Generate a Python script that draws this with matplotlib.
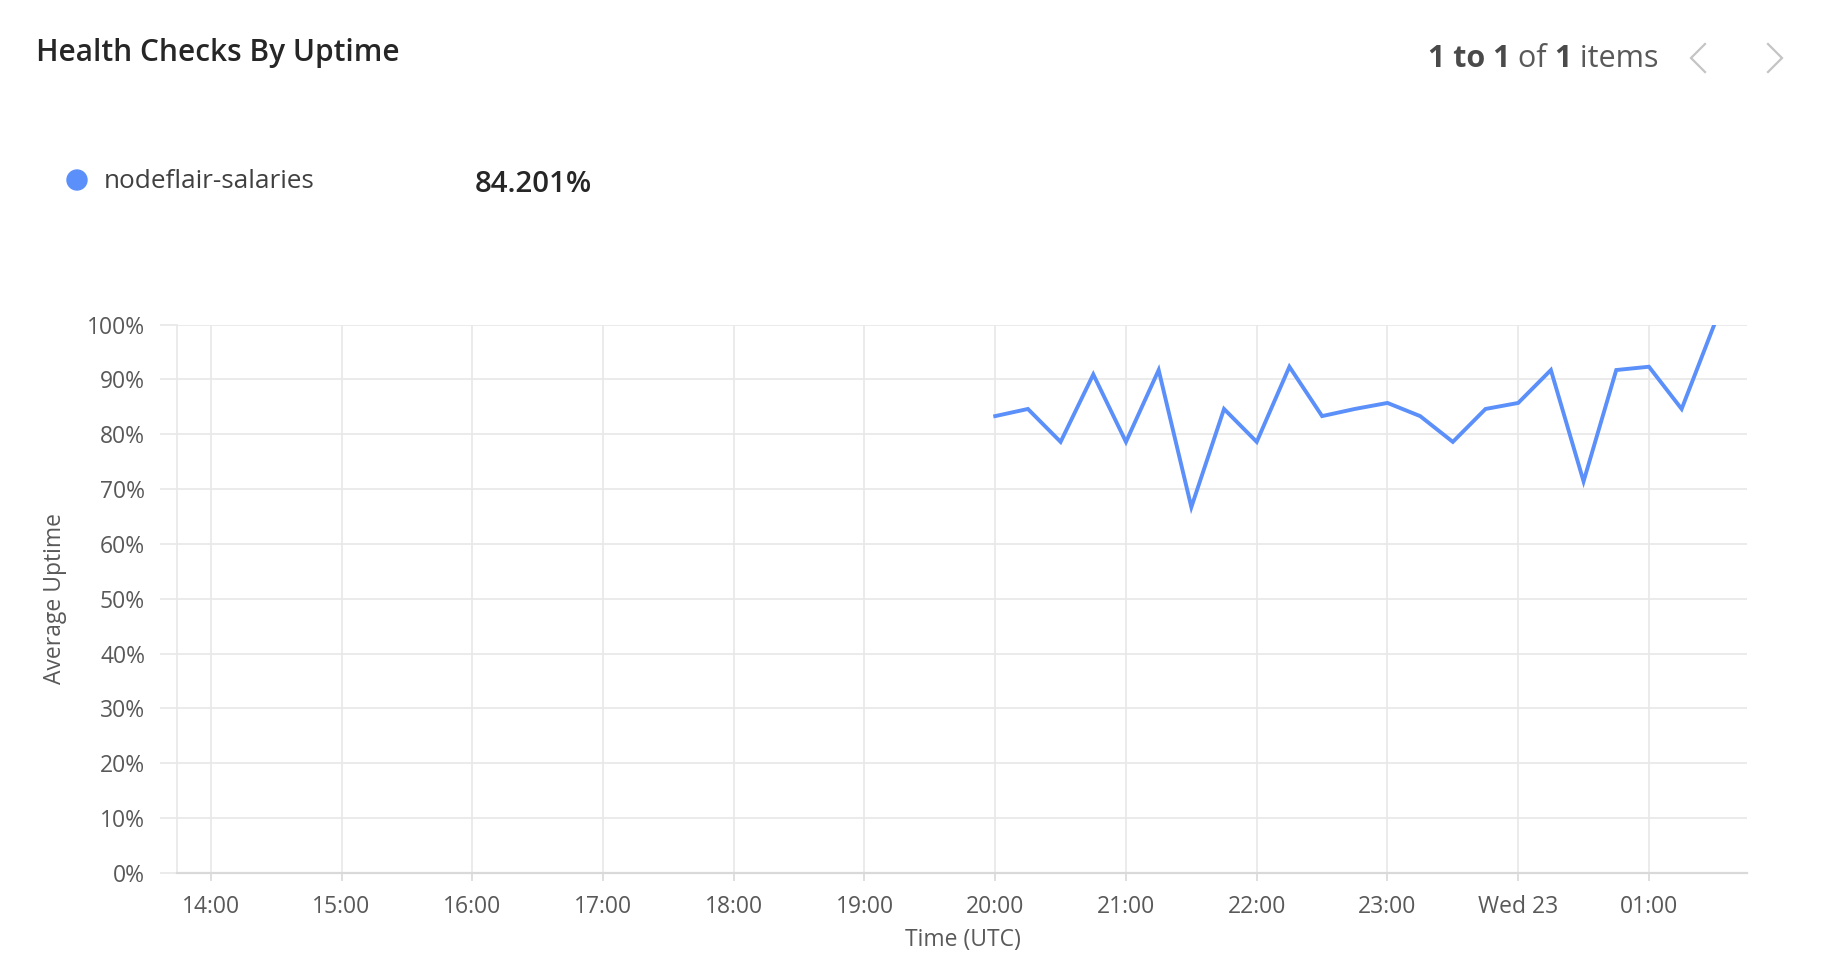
"""Health checks by uptime - line chart recreation."""

import matplotlib

matplotlib.use("Agg")
import matplotlib.dates as mdates
import matplotlib.pyplot as plt
import pandas as pd
from matplotlib.lines import Line2D
from matplotlib.patches import Ellipse
from matplotlib.ticker import FixedLocator, FuncFormatter

# ---- data -------------------------------------------------------------
times = [
    "2023-08-22 20:00", "2023-08-22 20:15", "2023-08-22 20:30", "2023-08-22 20:45",
    "2023-08-22 21:00", "2023-08-22 21:15", "2023-08-22 21:30", "2023-08-22 21:45",
    "2023-08-22 22:00", "2023-08-22 22:15", "2023-08-22 22:30", "2023-08-22 22:45",
    "2023-08-22 23:00", "2023-08-22 23:15", "2023-08-22 23:30", "2023-08-22 23:45",
    "2023-08-23 00:00", "2023-08-23 00:15", "2023-08-23 00:30", "2023-08-23 00:45",
    "2023-08-23 01:00", "2023-08-23 01:15", "2023-08-23 01:30",
]
uptime = [
    83.3, 84.6, 78.6, 90.9, 78.6, 91.7, 66.7, 84.6, 78.6, 92.3, 83.3, 84.6,
    85.7, 83.3, 78.6, 84.6, 85.7, 91.7, 71.4, 91.7, 92.3, 84.6, 100.0,
]
tick_times = [
    "2023-08-22 14:00", "2023-08-22 15:00", "2023-08-22 16:00", "2023-08-22 17:00",
    "2023-08-22 18:00", "2023-08-22 19:00", "2023-08-22 20:00", "2023-08-22 21:00",
    "2023-08-22 22:00", "2023-08-22 23:00", "2023-08-23 00:00", "2023-08-23 01:00",
]
tick_labels = [
    "14:00", "15:00", "16:00", "17:00", "18:00", "19:00",
    "20:00", "21:00", "22:00", "23:00", "Wed 23", "01:00",
]
x_range = ["2023-08-22 13:44:30", "2023-08-23 01:45"]
series_name = "nodeflair-salaries"
series_avg = "84.201%"
y_ticks = [0, 10, 20, 30, 40, 50, 60, 70, 80, 90, 100]

# ---- style ------------------------------------------------------------
W, H = 1830, 960
LINE = "#5b8ff9"
TEXT = "#595959"
DARK = "#262626"
GRID = "#e8e8e8"
plt.rcParams["font.family"] = ["Open Sans", "DejaVu Sans"]

fig = plt.figure(figsize=(W / 100, H / 100), dpi=100)


def fx(px):
    return px / W


def fy(py):
    return 1 - py / H


left, right, top, bottom = 177, 1747, 324.5, 873
ax = fig.add_axes([fx(left), fy(bottom), fx(right - left), (bottom - top) / H])

t = pd.to_datetime(times)
ax.plot(t, uptime, color=LINE, linewidth=2.8, solid_joinstyle="miter")

ax.set_xlim(pd.to_datetime(x_range[0]), pd.to_datetime(x_range[1]))
ax.set_ylim(0, 100)

ax.xaxis.set_major_locator(FixedLocator(mdates.date2num(pd.to_datetime(tick_times))))
ax.set_xticklabels(tick_labels)
ax.yaxis.set_major_locator(FixedLocator(y_ticks))
ax.yaxis.set_major_formatter(FuncFormatter(lambda v, _: f"{v:.0f}%"))

ax.grid(True, color=GRID, linewidth=1.2)
ax.set_axisbelow(True)
for side in ("top", "right"):
    ax.spines[side].set_visible(False)
ax.spines["left"].set_color(GRID)
ax.spines["left"].set_linewidth(1.2)
ax.spines["bottom"].set_color("#d9d9d9")
ax.spines["bottom"].set_linewidth(1.6)

ax.tick_params(axis="y", length=12, width=1.2, color=GRID, pad=11,
               labelsize=16.5, labelcolor=TEXT)
ax.tick_params(axis="x", length=6, width=1.2, color="#d9d9d9", pad=10,
               labelsize=16.5, labelcolor=TEXT)

ax.set_xlabel("Time (UTC)", fontsize=16.5, color=TEXT)
ax.set_ylabel("Average Uptime", fontsize=16.5, color=TEXT)
ax.xaxis.set_label_coords((963 - left) / (right - left), -(940 - bottom) / (bottom - top))
ax.yaxis.set_label_coords(-(left - 55) / (right - left), 0.5)
ax.xaxis.label.set_va("center")
ax.yaxis.label.set_va("center")

# ---- header -------------------------------------------------------------
fig.text(fx(36), fy(53), "Health Checks By Uptime", fontsize=21.5,
         fontweight="semibold", color=DARK, va="center", ha="left")

# legend row
fig.add_artist(Ellipse((fx(77), fy(180)), fx(20), 20 / H,
                       transform=fig.transFigure, color=LINE))
fig.text(fx(104), fy(181), series_name, fontsize=18.8, color="#404040",
         va="center", ha="left")
fig.text(fx(475), fy(184), series_avg, fontsize=21.2, fontweight="semibold",
         color=DARK, va="center", ha="left")

# pager "1 to 1 of 1 items"
renderer = fig.canvas.get_renderer()
pieces = [("1 to 1", "bold", "#4a4a4a"), (" of ", "normal", TEXT),
          ("1", "bold", "#4a4a4a"), (" items", "normal", TEXT)]
xpos = 1428
for s, w, c in pieces:
    txt = fig.text(fx(xpos), fy(59), s, fontsize=22, fontweight=w, color=c,
                   va="center", ha="left")
    xpos += txt.get_window_extent(renderer).width

# prev / next chevrons
for cx, sign in ((1698, -1), (1775, 1)):
    xs = [fx(cx - sign * 7), fx(cx + sign * 7), fx(cx - sign * 7)]
    ys = [fy(44), fy(58), fy(72)]
    fig.add_artist(Line2D(xs, ys, transform=fig.transFigure, color="#c4c4c4",
                          linewidth=1.6, solid_joinstyle="miter"))

fig.savefig("out.png", dpi=100)
